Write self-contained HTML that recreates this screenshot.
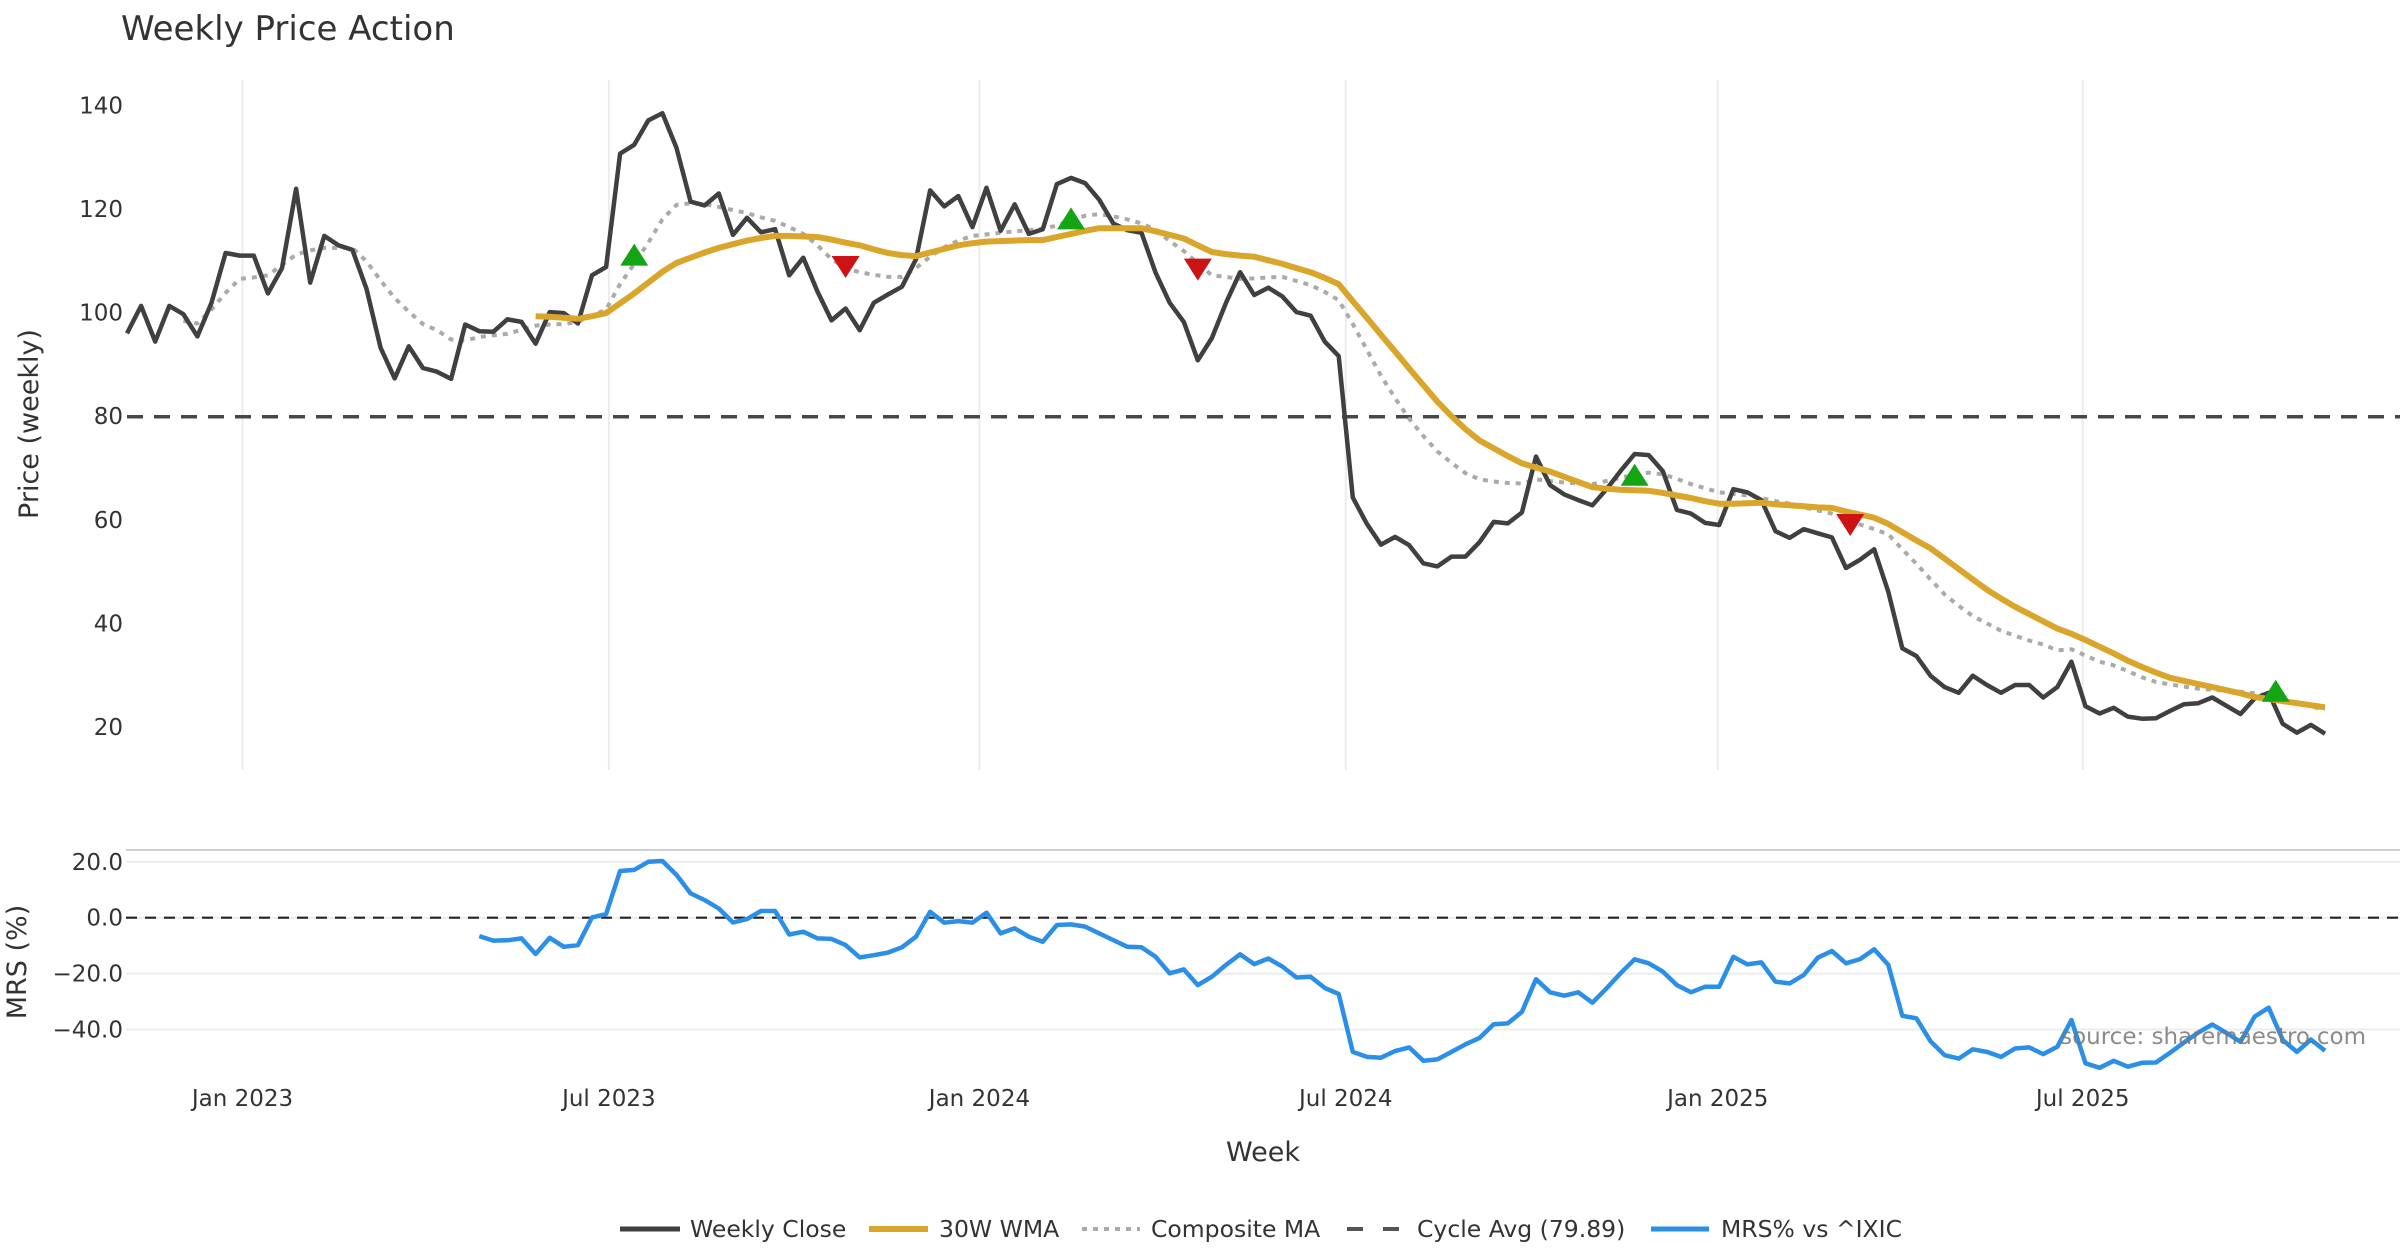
<!DOCTYPE html>
<html><head><meta charset="utf-8"><title>Weekly Price Action</title>
<style>
html,body{margin:0;padding:0;background:#fff;}
svg{display:block;font-family:"DejaVu Sans","Liberation Sans",sans-serif;}
</style></head>
<body>
<svg id="chart" width="2400" height="1260" viewBox="0 0 2400 1260" xmlns="http://www.w3.org/2000/svg">
<rect width="2400" height="1260" fill="#fff"/>
<text x="121" y="40" font-size="34" fill="#333">Weekly Price Action</text>
<g id="grid"></g>
<g id="main"></g>
<g id="mrs"></g>
<g id="axes"></g>
<text transform="translate(38,424) rotate(-90)" text-anchor="middle" font-size="27" fill="#333">Price (weekly)</text>
<text transform="translate(26,962) rotate(-90)" text-anchor="middle" font-size="27" fill="#333">MRS (%)</text>
<text x="1263" y="1161" text-anchor="middle" font-size="27" fill="#333">Week</text>
<text x="2366" y="1044" text-anchor="end" font-size="23" fill="#777" fill-opacity="0.85">source: sharemaestro.com</text>
<g id="legend">
  <g>
    <line x1="620" y1="1229" x2="680" y2="1229" stroke="#404040" stroke-width="5"/>
    <text x="690" y="1237" font-size="23.5" fill="#333">Weekly Close</text>
  </g>
  <g>
    <line x1="869" y1="1229" x2="928" y2="1229" stroke="#d9a52b" stroke-width="6"/>
    <text x="939" y="1237" font-size="23.5" fill="#333">30W WMA</text>
  </g>
  <g>
    <line x1="1082" y1="1229" x2="1140" y2="1229" stroke="#aaa" stroke-width="4" stroke-dasharray="5,6"/>
    <text x="1151" y="1237" font-size="23.5" fill="#333">Composite MA</text>
  </g>
  <g>
    <line x1="1347" y1="1229" x2="1401" y2="1229" stroke="#555" stroke-width="4" stroke-dasharray="16,20"/>
    <text x="1417" y="1237" font-size="23.5" fill="#333">Cycle Avg (79.89)</text>
  </g>
  <g>
    <line x1="1651" y1="1229" x2="1709" y2="1229" stroke="#2b8fe8" stroke-width="5"/>
    <text x="1721" y="1237" font-size="23.5" fill="#333">MRS% vs ^IXIC</text>
  </g>
</g>
</svg>
<script>
// ---- data ----
const closeStart = 0;
const closeValues = [96.0,101.3,94.4,101.3,99.7,95.4,101.9,111.5,111.0,111.0,103.7,108.6,123.9,105.8,114.8,113.0,112.1,104.6,93.2,87.3,93.5,89.3,88.6,87.2,97.7,96.4,96.3,98.7,98.2,94.0,100.1,99.9,97.9,107.2,108.8,130.7,132.4,137.1,138.5,131.8,121.4,120.7,123.0,115.0,118.3,115.5,116.1,107.2,110.6,104.1,98.5,100.8,96.6,101.9,103.5,
105.0,110.3,123.6,120.5,122.5,116.5,124.1,115.8,120.9,115.2,116.1,124.8,126.0,125.0,121.8,117.2,115.9,115.4,107.7,101.9,98.2,90.8,95.1,101.9,107.8,103.4,104.8,103.1,100.1,99.4,94.4,91.6,64.3,59.2,55.2,56.7,55.1,51.6,51.0,52.9,52.9,55.7,59.6,59.3,61.4,72.2,66.7,64.9,63.8,62.8,65.9,69.4,72.7,72.5,69.4,61.9,
61.2,59.4,59.0,65.9,65.3,63.8,57.8,56.5,58.2,57.4,56.6,50.7,52.3,54.3,46.1,35.2,33.7,29.9,27.7,26.6,29.9,28.1,26.6,28.1,28.1,25.7,27.7,32.6,24.0,22.6,23.7,22.0,21.6,21.7,23.1,24.4,24.6,25.7,24.1,22.5,25.5,26.6,20.6,18.9,20.4,18.7];
const wmaStart = 29;
const wmaValues = [99.3,99.2,99.0,98.8,99.3,99.9,101.8,103.7,105.8,107.9,109.6,110.6,111.6,112.5,113.2,113.9,114.4,114.8,114.8,114.7,114.6,114.1,113.5,113.0,112.2,111.5,111.1,110.9,111.6,112.3,113.0,113.4,113.7,113.8,113.9,114.0,114.0,114.6,115.2,115.8,116.3,116.3,116.3,116.3,115.7,115.0,114.3,113.0,111.7,111.3,111.0,110.8,110.1,109.4,108.6,107.8,106.7,105.5,102.2,99.0,95.7,92.5,89.2,86.0,82.8,80.0,77.5,75.3,73.8,72.3,70.9,70.1,69.3,68.3,67.3,66.3,66.0,65.8,65.7,65.6,65.2,64.7,64.2,63.6,63.1,63.1,63.2,63.3,63.0,62.8,62.6,62.4,62.3,61.6,61.0,60.4,59.2,57.6,56.0,54.5,52.5,50.5,48.5,46.5,44.8,43.2,41.8,40.4,39.0,38.0,36.8,35.5,34.2,32.8,31.6,30.5,29.5,28.9,28.3,27.7,27.1,26.5,25.8,25.4,25.0,24.6,24.2,23.8];
const compStart = 4;
const compValues = [98.4,97.9,100.6,103.8,106.5,106.8,107.2,109.2,111.2,112.0,112.5,112.5,112.5,109.9,106.2,102.8,100.2,97.8,96.6,94.8,94.6,95.3,95.6,95.9,96.7,97.5,97.7,97.8,98.2,99.4,100.6,105.5,109.4,113.5,118.0,120.8,121.1,120.9,120.4,119.8,119.2,118.4,117.7,116.5,115.2,113.0,110.3,108.6,107.8,107.3,106.9,106.9,108.6,110.8,112.6,113.9,114.8,115.1,115.4,115.7,115.9,116.2,116.8,117.8,118.7,119.0,118.6,118.0,117.2,116.0,113.8,111.9,109.5,107.2,106.9,106.5,106.6,106.8,106.9,106.1,105.3,104.0,102.4,97.8,92.8,87.8,83.5,79.5,76.2,73.2,71.0,69.0,67.8,67.4,67.1,67.0,67.8,67.5,67.2,67.0,66.9,67.5,68.1,68.7,69.1,68.8,67.9,66.9,66.1,65.3,65.0,64.7,64.2,63.6,63.1,62.4,61.8,61.2,60.2,59.1,58.2,57.2,54.3,51.5,48.5,45.6,43.4,41.4,40.0,38.6,37.6,36.7,35.9,34.8,35.0,33.8,32.6,31.9,30.8,29.6,28.7,28.2,27.8,27.4,27.2,27.0,26.8,26.5,26.0,25.3,24.7,24.0,23.3];
const mrsStart = 25;
const mrsValues = [-6.6,-8.2,-8.1,-7.4,-13.0,-7.2,-10.4,-9.8,0.1,1.3,16.7,17.1,20.0,20.3,15.3,8.7,6.3,3.3,-1.7,-0.5,2.4,2.4,-6.0,-5.0,-7.4,-7.6,-9.8,-14.2,-13.4,-12.5,-10.6,-6.8,2.1,-1.8,-1.2,-1.8,1.8,-5.6,-3.8,-6.8,-8.6,-2.6,-2.4,-3.2,-5.6,-8.0,-10.4,-10.6,-14.0,-19.9,-18.5,-24.1,
-21.1,-16.9,-13.1,-16.6,-14.6,-17.5,-21.4,-21.1,-25.1,-27.3,-48.0,-49.8,-50.1,-47.7,-46.4,-51.2,-50.7,-48.0,-45.3,-43.0,-38.1,-37.8,-33.7,-22.0,-26.7,-27.9,-26.7,-30.4,-25.3,-19.9,-14.9,-16.3,-19.3,-24.1,-26.7,-24.7,-24.7,-14.0,-16.7,-16.0,-22.9,-23.5,-20.5,-14.3,-11.9,-16.3,-14.8,-11.3,-16.9,-35.1,-36.0,-44.2,-49.2,-50.4,-47.1,-48.0,-49.8,-46.8,-46.4,-48.8,-46.2,-36.6,-52.1,-53.7,-51.2,-53.3,-51.9,-51.8,-48.3,-44.6,-41.1,-38.2,-41.2,-44.4,-35.4,-32.2,-43.8,-48.0,-43.6,-47.6];
const cycleAvg = 79.89;
const buyWeeks = [36, 67, 107, 152.5];
const buyValues = [111.0, 118.0, 68.5, 26.8];
const sellWeeks = [51, 76, 122.3];
const sellValues = [109.0, 108.5, 59.2];
const xTickWeeks = [8.2, 34.2, 60.5, 86.5, 112.9, 138.8];
const xTickLabels = ["Jan 2023","Jul 2023","Jan 2024","Jul 2024","Jan 2025","Jul 2025"];
const yTicks = [20, 40, 60, 80, 100, 120, 140];
const mrsTicks = [20, 0, -20, -40];

// ---- scales ----
const NS = "http://www.w3.org/2000/svg";
function xS(i){ return 127 + i * 14.09; }
function yS(v){ return 727 - (v - 20) * 5.18; }
function yM(v){ return 917.7 - v * 2.795; }
function mk(tag, attrs, parent){
  const e = document.createElementNS(NS, tag);
  for (const k in attrs) e.setAttribute(k, attrs[k]);
  parent.appendChild(e);
  return e;
}
function pathFrom(start, vals, ys){
  let d = "";
  vals.forEach((v, k) => { d += (k ? "L" : "M") + xS(start + k).toFixed(1) + "," + ys(v).toFixed(1); });
  return d;
}
const grid = document.getElementById("grid");
const main = document.getElementById("main");
const mrs = document.getElementById("mrs");
const axes = document.getElementById("axes");

xTickWeeks.forEach((w, k) => {
  const g = mk("line", {x1: xS(w), x2: xS(w), y1: 80, y2: 770, stroke: "#ececf0", "stroke-width": 2}, grid);
  
  
  const t = mk("text", {x: xS(w), y: 1106, "text-anchor": "middle", "font-size": 23, fill: "#333"}, axes);
  t.textContent = xTickLabels[k];
  
  
});
yTicks.forEach(v => {
  const t = mk("text", {x: 123, y: yS(v) + 8, "text-anchor": "end", "font-size": 23, fill: "#333"}, axes);
  t.textContent = String(v);
  
  
});
const topLine = mk("line", {x1: 126, x2: 2400, y1: 850, y2: 850, stroke: "#cfcfcf", "stroke-width": 2}, grid);


mrsTicks.forEach(v => {
  const g = mk("line", {x1: 126, x2: 2400, y1: yM(v), y2: yM(v), stroke: "#ececf0", "stroke-width": 2}, grid);
  
  
  const t = mk("text", {x: 123, y: yM(v) + 8, "text-anchor": "end", "font-size": 23, fill: "#333"}, axes);
  t.textContent = (v < 0 ? "\u2212" + Math.abs(v).toFixed(1) : v.toFixed(1));
  
  
});

const cyc = mk("line", {x1: 127, x2: 2400, y1: yS(cycleAvg), y2: yS(cycleAvg), stroke: "#474747", "stroke-width": 3.5, "stroke-dasharray": "16,11"}, main);


const comp = mk("path", {d: pathFrom(compStart, compValues, yS), fill: "none", stroke: "#aaaaaa", "stroke-width": 4, "stroke-dasharray": "5,6"}, main);


const cl = mk("path", {d: pathFrom(closeStart, closeValues, yS), fill: "none", stroke: "#404040", "stroke-width": 4.5, "stroke-linejoin": "round"}, main);


const wma = mk("path", {d: pathFrom(wmaStart, wmaValues, yS), fill: "none", stroke: "#d9a52b", "stroke-width": 6, "stroke-linejoin": "round"}, main);


buyWeeks.forEach((w, k) => {
  const x = xS(w), y = yS(buyValues[k]);
  const p = mk("polygon", {points: `${x-14},${y+10} ${x+14},${y+10} ${x},${y-12}`, fill: "#14a514"}, main);
  
  
});
sellWeeks.forEach((w, k) => {
  const x = xS(w), y = yS(sellValues[k]);
  const p = mk("polygon", {points: `${x-14},${y-10} ${x+14},${y-10} ${x},${y+12}`, fill: "#cc1414"}, main);
  
  
});
const zero = mk("line", {x1: 126, x2: 2400, y1: yM(0), y2: yM(0), stroke: "#222", "stroke-width": 2.2, "stroke-dasharray": "11,8"}, mrs);


const ml = mk("path", {d: pathFrom(mrsStart, mrsValues, yM), fill: "none", stroke: "#2b8fe8", "stroke-width": 4.5, "stroke-linejoin": "round"}, mrs);


</script>
</body></html>
